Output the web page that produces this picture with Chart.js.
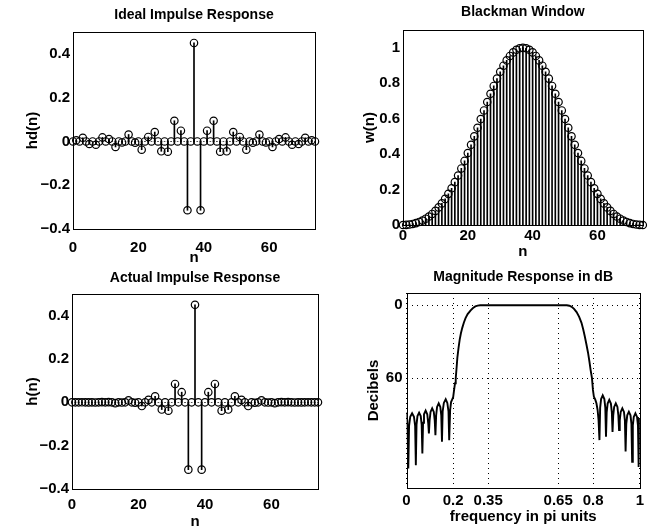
<!DOCTYPE html>
<html>
<head>
<meta charset="utf-8">
<title>Bandpass FIR design - Blackman window</title>
<script src="https://cdn.jsdelivr.net/npm/chart.js@4.4.1/dist/chart.umd.min.js"></script>
<style>
  html, body { margin: 0; padding: 0; background: #fff; }
  #wrap { position: relative; width: 648px; height: 527px; overflow: hidden; background: #fff; }
  #wrap canvas { position: absolute; left: 0; top: 0; }
</style>
</head>
<body>
<div id="wrap">
  <canvas id="hdChart" width="648" height="527"></canvas>
  <canvas id="winChart" width="648" height="527"></canvas>
  <canvas id="hChart" width="648" height="527"></canvas>
  <canvas id="magChart" width="648" height="527"></canvas>
</div>
<script>
// sample index, M = 75
const n = [
  0, 1, 2, 3, 4, 5, 6, 7, 8, 9, 10, 11, 12, 13, 14, 15, 16, 17, 18, 19,
  20, 21, 22, 23, 24, 25, 26, 27, 28, 29, 30, 31, 32, 33, 34, 35, 36, 37, 38, 39,
  40, 41, 42, 43, 44, 45, 46, 47, 48, 49, 50, 51, 52, 53, 54, 55, 56, 57, 58, 59,
  60, 61, 62, 63, 64, 65, 66, 67, 68, 69, 70, 71, 72, 73, 74
];

// ideal bandpass impulse response
const hd = [
  0, 0.0055, 0, 0.0167, 0, -0.0117, 0, -0.0150, 0, 0.0184,
  0, 0.0111, 0, -0.0252, 0, -0.0045, 0, 0.0318, 0, -0.0055,
  0, -0.0378, 0, 0.0206, 0, 0.0429, 0, -0.0450, 0, -0.0468,
  0, 0.0945, 0, 0.0492, 0, -0.3144, 0, 0.45, 0, -0.3144,
  0, 0.0492, 0, 0.0945, 0, -0.0468, 0, -0.0450, 0, 0.0429,
  0, 0.0206, 0, -0.0378, 0, -0.0055, 0, 0.0318, 0, -0.0045,
  0, -0.0252, 0, 0.0111, 0, 0.0184, 0, -0.0150, 0, -0.0117,
  0, 0.0167, 0, 0.0055, 0
];

// Blackman window
const w = [
  0, 0.0007, 0.0026, 0.0060, 0.0108, 0.0172, 0.0254, 0.0356, 0.0478, 0.0624,
  0.0795, 0.0993, 0.1218, 0.1473, 0.1758, 0.2073, 0.2418, 0.2791, 0.3191, 0.3615,
  0.4061, 0.4524, 0.5001, 0.5487, 0.5975, 0.6461, 0.6939, 0.7402, 0.7844, 0.8259,
  0.8641, 0.8985, 0.9285, 0.9537, 0.9737, 0.9882, 0.9970, 1.0000, 0.9970, 0.9882,
  0.9737, 0.9537, 0.9285, 0.8985, 0.8641, 0.8259, 0.7844, 0.7402, 0.6939, 0.6461,
  0.5975, 0.5487, 0.5001, 0.4524, 0.4061, 0.3615, 0.3191, 0.2791, 0.2418, 0.2073,
  0.1758, 0.1473, 0.1218, 0.0993, 0.0795, 0.0624, 0.0478, 0.0356, 0.0254, 0.0172,
  0.0108, 0.0060, 0.0026, 0.0007, 0
];

// windowed (actual) impulse response
const h = [
  0, 0.0000, 0, 0.0001, 0, -0.0002, 0, -0.0005, 0, 0.0011,
  0, 0.0011, 0, -0.0037, 0, -0.0009, 0, 0.0089, 0, -0.0020,
  0, -0.0171, 0, 0.0113, 0, 0.0277, 0, -0.0333, 0, -0.0386,
  0, 0.0849, 0, 0.0469, 0, -0.3107, 0, 0.45, 0, -0.3107,
  0, 0.0469, 0, 0.0849, 0, -0.0386, 0, -0.0333, 0, 0.0277,
  0, 0.0113, 0, -0.0171, 0, -0.0020, 0, 0.0089, 0, -0.0009,
  0, -0.0037, 0, 0.0011, 0, 0.0011, 0, -0.0005, 0, -0.0002,
  0, 0.0001, 0, 0.0000, 0
];

// magnitude response, frequency in pi units
const freq = [
  0.000, 0.003, 0.0077, 0.011, 0.016, 0.024, 0.032, 0.037, 0.040, 0.043,
  0.047, 0.054, 0.061, 0.065, 0.068, 0.071, 0.075, 0.082, 0.089, 0.093,
  0.096, 0.099, 0.103, 0.110, 0.117, 0.121, 0.124, 0.127, 0.131, 0.138,
  0.145, 0.149, 0.152, 0.155, 0.160, 0.168, 0.175, 0.180, 0.183, 0.187,
  0.191, 0.196, 0.200, 0.204, 0.208, 0.211, 0.215, 0.218, 0.223, 0.228,
  0.233, 0.239, 0.246, 0.253, 0.262, 0.275, 0.285, 0.295, 0.305, 0.316,
  0.330, 0.500, 0.670, 0.687, 0.698, 0.708, 0.718, 0.729, 0.740, 0.750,
  0.757, 0.764, 0.771, 0.778, 0.784, 0.789, 0.795, 0.799, 0.803, 0.809,
  0.814, 0.819, 0.823, 0.827, 0.830, 0.834, 0.841, 0.848, 0.852, 0.855,
  0.858, 0.862, 0.869, 0.876, 0.880, 0.883, 0.886, 0.890, 0.897, 0.904,
  0.908, 0.911, 0.914, 0.918, 0.925, 0.932, 0.936, 0.939, 0.942, 0.946,
  0.953, 0.960, 0.964, 0.967, 0.970, 0.974, 0.981, 0.988, 0.992, 0.995,
  0.998, 1.000
];
const magDb = [
  -88, -94, -134, -99, -91.5, -88.7, -91.5, -99, -131.3, -98,
  -91, -88.2, -91, -98, -121.7, -96.5, -89.5, -86.5, -89.5, -96.5,
  -105.2, -94.6, -87.6, -84.6, -87.6, -94.6, -106.6, -90.5, -83.5, -80.5,
  -83.5, -90.5, -112.1, -87.2, -80.2, -77.2, -80.2, -87.2, -110.7, -86,
  -79.5, -77.3, -75.5, -69.5, -64, -60, -50.5, -43, -35, -28.3,
  -23.2, -18.6, -14.2, -10.6, -7.3, -4.2, -2.3, -1.0, -0.35, -0.05,
  0, 0, 0, -0.05, -0.45, -1.3, -3.0, -5.7, -9.6, -14.5,
  -19.6, -25.5, -32.1, -39.0, -46.2, -53.0, -60.0, -69.5, -75.0, -77.5,
  -80.5, -86, -94, -110.7, -84, -77, -74, -77, -84, -108,
  -87.7, -80.7, -77.7, -80.7, -87.7, -104, -90.5, -83.5, -80.5, -83.5,
  -90.5, -102.5, -94.6, -87.6, -84.6, -87.6, -94.6, -120, -97.4, -90.4,
  -87.4, -90.4, -97.4, -128.6, -98.7, -91.7, -88.7, -91.7, -98.7, -132.7,
  -97, -93
];

// tick positions and labels
const nTicks = [0, 20, 40, 60];
const impulseTicks = [-0.4, -0.2, 0, 0.2, 0.4];
const windowTicks = [0, 0.2, 0.4, 0.6, 0.8, 1];
const freqTicks = [0, 0.2, 0.35, 0.65, 0.8, 1];
const freqTickLabels = ['0', '0.2', '0.35', '0.65', '0.8', '1'];
const dbTicks = [-60, 0];
const dbTickLabels = ['60', '0'];

const FAMILY = '"Liberation Sans", Arial, Helvetica, sans-serif';
const TICK_FONT = { family: FAMILY, size: 15, weight: 'bold' };
const LABEL_FONT = { family: FAMILY, size: 15, weight: 'bold' };
const TITLE_FONT = { family: FAMILY, size: 14, weight: 'bold' };
const LABEL_LH = 15 * 1.2;
const TITLE_LH = 14 * 1.2;

Chart.defaults.color = '#000';

const signed = v => (v < 0 ? '\u2212' : '') + Math.abs(v);

// MATLAB-style closed axes box
const boxFrame = {
  id: 'boxFrame',
  afterDatasetsDraw(chart) {
    const { ctx, chartArea: a } = chart;
    ctx.save();
    ctx.strokeStyle = '#000';
    ctx.lineWidth = 1;
    const l = Math.round(a.left) + 0.5, t = Math.round(a.top) + 0.5;
    const r = Math.round(a.right) + 0.5, b = Math.round(a.bottom) + 0.5;
    ctx.strokeRect(l, t, r - l, b - t);
    ctx.restore();
  }
};

function pairs(xs, ys) {
  return xs.map((x, i) => ({ x: x, y: ys[i] }));
}

// stem plot = thin bars from zero plus open circle markers
function stemSets(values) {
  const pts = pairs(n, values);
  return [
    {
      type: 'scatter', data: pts, order: 0, clip: false,
      pointRadius: 3.7, pointBorderWidth: 1.2,
      pointBorderColor: '#000', pointBackgroundColor: 'rgba(0,0,0,0)'
    },
    {
      type: 'bar', data: pts, order: 1,
      backgroundColor: '#000', borderWidth: 0, barThickness: 1
    }
  ];
}

function makePanel(id, p) {
  const padLeft = p.yTitleX - LABEL_LH / 2;
  const padTop = p.titleY - TITLE_LH / 2;
  const padBottom = 527 - (p.xTitleY + LABEL_LH / 2);
  const gridOpts = p.grid
    ? { color: '#000', lineWidth: 1, drawTicks: false, offset: false }
    : { display: false, drawTicks: false, offset: false };
  return new Chart(document.getElementById(id), {
    type: 'scatter',
    data: { datasets: p.datasets },
    options: {
      responsive: false,
      animation: false,
      events: [],
      layout: { padding: { left: padLeft, top: padTop, right: 648 - p.right, bottom: padBottom } },
      plugins: {
        legend: { display: false },
        tooltip: { enabled: false },
        title: {
          display: true, text: p.title, fullSize: false, color: '#000',
          font: TITLE_FONT,
          padding: { top: 0, bottom: p.top - (p.titleY + TITLE_LH / 2) }
        }
      },
      scales: {
        x: {
          type: 'linear', min: p.xMin, max: p.xMax, offset: false,
          afterFit(s) { s.height = p.xTitleY + LABEL_LH / 2 - p.bottom; },
          afterBuildTicks(s) { s.ticks = p.xTicks.map(v => ({ value: v })); },
          ticks: {
            font: TICK_FONT, padding: p.xTickGap, autoSkip: false, maxRotation: 0,
            callback: p.xLabel
          },
          grid: gridOpts,
          border: { display: false, dash: [1, 4] },
          title: { display: true, text: p.xTitle, font: LABEL_FONT, padding: 0, color: '#000' }
        },
        y: {
          type: 'linear', min: p.yMin, max: p.yMax, offset: false,
          afterFit(s) { s.width = p.left - padLeft; },
          afterBuildTicks(s) { s.ticks = p.yTicks.map(v => ({ value: v })); },
          ticks: {
            font: TICK_FONT, padding: p.yTickGap, autoSkip: false,
            callback: p.yLabel
          },
          grid: gridOpts,
          border: { display: false, dash: [1, 4] },
          title: { display: true, text: p.yTitle, font: LABEL_FONT, padding: 0, color: '#000' }
        }
      }
    },
    plugins: [boxFrame]
  });
}

makePanel('hdChart', {
  title: 'Ideal Impulse Response', xTitle: 'n', yTitle: 'hd(n)',
  left: 73, top: 32, right: 315, bottom: 229,
  titleY: 15, yTitleX: 32.5, xTitleY: 258, xTickGap: 10, yTickGap: 3,
  xMin: 0, xMax: 74, yMin: -0.4, yMax: 0.5,
  xTicks: nTicks, yTicks: impulseTicks,
  xLabel: v => String(v), yLabel: v => signed(v),
  datasets: stemSets(hd)
});

makePanel('winChart', {
  title: 'Blackman Window', xTitle: 'n', yTitle: 'w(n)',
  left: 403, top: 30, right: 644, bottom: 225,
  titleY: 12, yTitleX: 370, xTitleY: 252, xTickGap: 2, yTickGap: 3,
  xMin: 0, xMax: 74, yMin: 0, yMax: 1.1,
  xTicks: nTicks, yTicks: windowTicks,
  xLabel: v => String(v), yLabel: v => String(v),
  datasets: stemSets(w)
});

makePanel('hChart', {
  title: 'Actual Impulse Response', xTitle: 'n', yTitle: 'h(n)',
  left: 72, top: 294, right: 318, bottom: 489,
  titleY: 278, yTitleX: 33.3, xTitleY: 522, xTickGap: 7, yTickGap: 3,
  xMin: 0, xMax: 74, yMin: -0.4, yMax: 0.5,
  xTicks: nTicks, yTicks: impulseTicks,
  xLabel: v => String(v), yLabel: v => signed(v),
  datasets: stemSets(h)
});

makePanel('magChart', {
  title: 'Magnitude Response in dB', xTitle: 'frequency in pi units', yTitle: 'Decibels',
  left: 406.5, top: 293, right: 645, bottom: 488,
  titleY: 277, yTitleX: 374, xTitleY: 517, xTickGap: 4, yTickGap: 4,
  xMin: 0, xMax: 1, yMin: -150, yMax: 10,
  xTicks: freqTicks, yTicks: dbTicks, grid: true,
  xLabel: (v, i) => freqTickLabels[i], yLabel: (v, i) => dbTickLabels[i],
  datasets: [{
    type: 'scatter', data: pairs(freq, magDb), showLine: true,
    borderColor: '#000', borderWidth: 1.9, pointRadius: 0, tension: 0
  }]
});
</script>
</body>
</html>
